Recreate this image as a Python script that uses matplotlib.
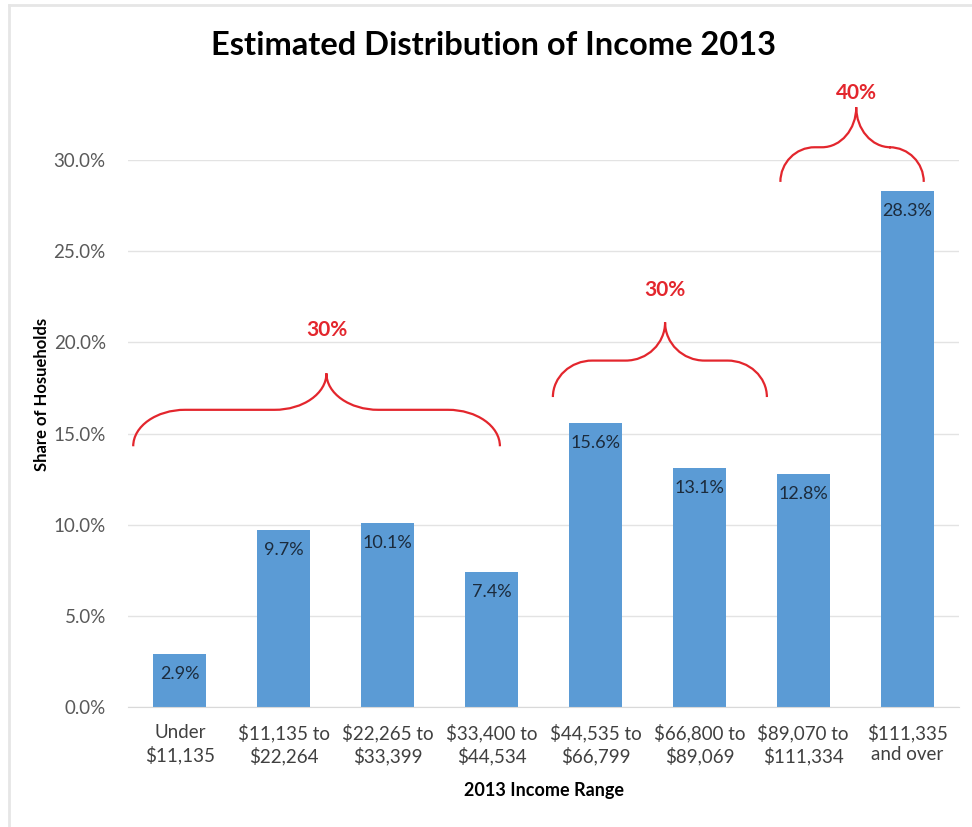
import matplotlib.pyplot as plt
from matplotlib.path import Path
from matplotlib.patches import PathPatch
from matplotlib.lines import Line2D
from matplotlib.ticker import PercentFormatter

plt.rcParams['font.family'] = ['Lato', 'DejaVu Sans']

# Dados
faixas = ['Under\n$11,135', '$11,135 to\n$22,264', '$22,265 to\n$33,399', '$33,400 to\n$44,534',
          '$44,535 to\n$66,799', '$66,800 to\n$89,069', '$89,070 to\n$111,334', '$111,335\nand over']
share = [2.9, 9.7, 10.1, 7.4, 15.6, 13.1, 12.8, 28.3]

# Grupos de faixas com a chave e o total do grupo
grupos = ['30%', '30%', '40%']
grupo_ini = [-0.45, 3.59, 5.78]
grupo_fim = [3.08, 5.65, 7.16]
grupo_ponta = [1.41, 4.67, 6.51]

AZUL = '#5b9bd5'
VERMELHO = '#e3262d'

fig = plt.figure(figsize=(9.72, 8.27), dpi=100)
ax = fig.add_axes([0.1317, 0.1451, 0.855, 0.6614])

x = range(len(share))
barras = ax.bar(x, share, width=0.51, color=AZUL, zorder=2)

for xi, v in zip(x, share):
    ax.text(xi, v - 1.1, f'{v:.1f}%', ha='center', va='center', fontsize=13, color='#1c2b3c', zorder=3)

ax.set_xlim(-0.5, 7.5)
ax.set_ylim(0, 30)
ax.set_yticks([0, 5, 10, 15, 20, 25, 30])
ax.yaxis.set_major_formatter(PercentFormatter(decimals=1))
ax.set_xticks(list(x))
ax.set_xticklabels(faixas, fontsize=13.5, color='#404040', linespacing=1.3)
ax.tick_params(axis='y', length=0, pad=16, labelsize=13.5, labelcolor='#595959')
ax.tick_params(axis='x', length=0, pad=12)
ax.grid(axis='y', color='#e3e3e3', linewidth=1, zorder=0)
for s in ['top', 'right', 'left']:
    ax.spines[s].set_visible(False)
ax.spines['bottom'].set_color('#d9d9d9')

ax.set_xlabel('2013 Income Range', fontsize=13, fontweight='bold', labelpad=12)
fig.text(42 / 972, 1 - 394 / 827, 'Share of Hosueholds', rotation=90, ha='center', va='center',
         fontsize=12, fontweight='bold')
fig.text(0.508, 0.945, 'Estimated Distribution of Income 2013', ha='center', va='center',
         fontsize=23.5, fontweight='bold')


def chave(ax, x0, x1, xt, y0, ym, yt, r, texto, dy):
    # chave em duas metades: ponta esquerda -> topo -> ponta direita
    k = 0.552
    verts = [
        (x0, y0),
        (x0, y0 + k * (ym - y0)), (x0 + r - k * r, ym), (x0 + r, ym),
        (xt - r, ym),
        (xt - r + k * r, ym), (xt, yt - k * (yt - ym)), (xt, yt),
        (xt, yt - k * (yt - ym)), (xt + r - k * r, ym), (xt + r, ym),
        (x1 - r, ym),
        (x1 - r + k * r, ym), (x1, y0 + k * (ym - y0)), (x1, y0),
    ]
    codes = [Path.MOVETO,
             Path.CURVE4, Path.CURVE4, Path.CURVE4,
             Path.LINETO,
             Path.CURVE4, Path.CURVE4, Path.CURVE4,
             Path.CURVE4, Path.CURVE4, Path.CURVE4,
             Path.LINETO,
             Path.CURVE4, Path.CURVE4, Path.CURVE4]
    ax.add_patch(PathPatch(Path(verts, codes), facecolor='none', edgecolor=VERMELHO,
                           linewidth=1.6, clip_on=False, zorder=4))
    ax.text(xt, yt + dy, texto, ha='center', va='center', fontsize=15, fontweight='bold',
            color=VERMELHO, clip_on=False)


chave(ax, grupo_ini[0], grupo_fim[0], grupo_ponta[0], 14.3, 16.3, 18.3, 0.5, grupos[0], 2.35)
chave(ax, grupo_ini[1], grupo_fim[1], grupo_ponta[1], 17.0, 19.0, 21.1, 0.38, grupos[1], 1.75)
chave(ax, grupo_ini[2], grupo_fim[2], grupo_ponta[2], 28.8, 30.7, 32.9, 0.33, grupos[2], 0.75)

# moldura cinza clara
fig.add_artist(Line2D([9 / 972, 9 / 972], [0, 1 - 5 / 827], transform=fig.transFigure,
                      color='#e6e6e6', linewidth=2))
fig.add_artist(Line2D([9 / 972, 1], [1 - 5 / 827, 1 - 5 / 827], transform=fig.transFigure,
                      color='#e6e6e6', linewidth=2))

fig.savefig('out.png', dpi=100)
